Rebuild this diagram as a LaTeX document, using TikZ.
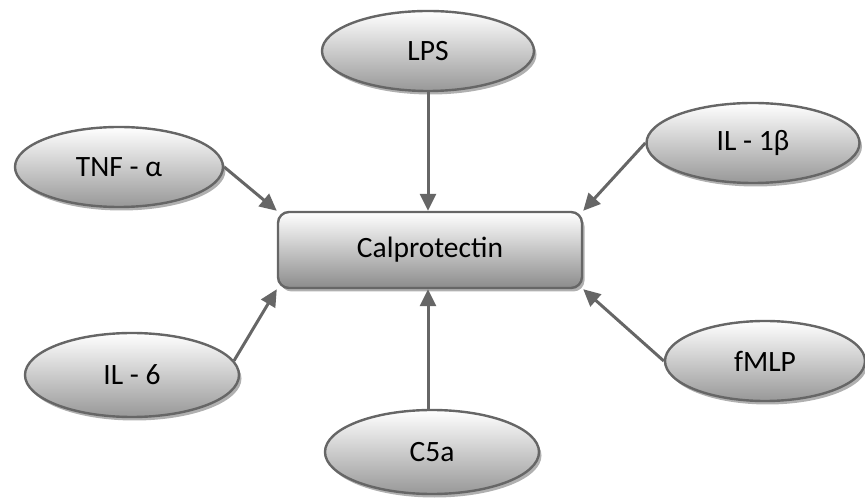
\documentclass[tikz,border=0pt]{standalone}
\usepackage{fontspec}
\setmainfont{Carlito}
\usetikzlibrary{shapes.geometric,arrows.meta,shadows}
\definecolor{edgegray}{HTML}{666666}
\definecolor{botgray}{HTML}{989898}
\definecolor{shadowgray}{HTML}{B0B0B0}
\tikzset{
  bubble/.style={ellipse, draw=edgegray, line width=2.4pt, inner sep=0pt,
    minimum width=212pt, minimum height=80pt,
    top color=white, bottom color=botgray,
    drop shadow={shadow xshift=2.5pt, shadow yshift=-3.5pt, fill=shadowgray, opacity=1},
    font=\fontsize{29.5}{35}\selectfont},
  centerbox/.style={rectangle, rounded corners=11pt, draw=edgegray, line width=2.4pt,
    inner sep=0pt, minimum width=304pt, minimum height=76pt,
    top color=white, bottom color=botgray!92!black,
    drop shadow={shadow xshift=2.5pt, shadow yshift=-3.5pt, fill=shadowgray, opacity=1},
    font=\fontsize{29.5}{35}\selectfont},
  link/.style={draw=edgegray, line width=3pt,
    -{Triangle[length=17pt,width=16pt]}}
}
\begin{document}
\begin{tikzpicture}[x=1pt,y=-1pt]
\useasboundingbox (0,0) rectangle (865,502);
\node[centerbox] (cal) at (430,250) {Calprotectin};
\node[bubble] (lps) at (428,51) {LPS};
\node[bubble, minimum width=208pt] (tnf) at (119,167) {TNF - α};
\node[bubble, minimum width=213pt] (il1) at (753,143) {IL - 1β};
\node[bubble, minimum width=214pt, minimum height=84pt] (il6) at (132,375) {IL - 6};
\node[bubble, minimum width=214pt, minimum height=84pt] (c5a) at (432,452) {C5a};
\node[bubble, minimum width=200pt] (fmlp) at (765,361) {fMLP};
\draw[link] (lps.south -| 428,0) -- (428,0 |- cal.north);
\draw[link] (c5a.north -| 428,0) -- (428,0 |- cal.south);
\draw[link] (tnf.east) -- (cal.north west);
\draw[link] (il1.west) -- (cal.north east);
\draw[link] (fmlp.west) -- (cal.south east);
\draw[link] (il6.8) -- (cal.south west);
\end{tikzpicture}
\end{document}
